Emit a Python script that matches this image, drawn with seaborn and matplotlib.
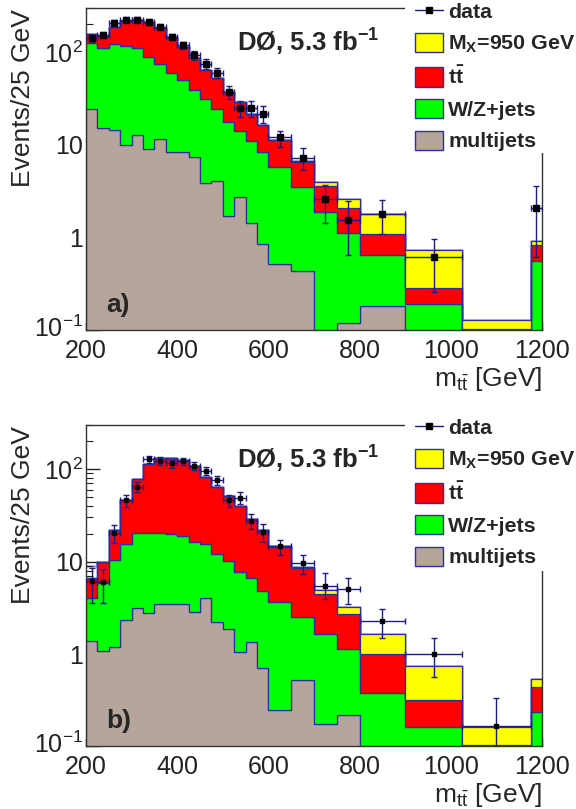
import numpy as np
import pandas as pd
import matplotlib
matplotlib.use("Agg")
import matplotlib.pyplot as plt
import seaborn as sns
from matplotlib.patches import Patch, Rectangle
from matplotlib.lines import Line2D
from matplotlib.transforms import ScaledTranslation
from matplotlib.ticker import FixedLocator, FixedFormatter, MultipleLocator, LogLocator, NullFormatter

# ---------------- data ----------------
edges = [200, 225, 250, 275, 300, 325, 350, 375, 400, 425, 450, 475, 500, 525,
         550, 575, 600, 650, 700, 750, 800, 900, 1025, 1175, 1200]

# panel a)
mj_a = [24.5, 15.2, 14.5, 10.0, 12.9, 9.0, 11.6, 8.3, 8.3, 7.3, 3.9, 4.1, 1.7, 2.7,
        1.42, 0.84, 0.51, 0.43, 0, 0.12, 0.18, 0, 0, 0]
wz_a = [101.5, 96.8, 107.5, 106, 97.1, 80, 63.4, 51.7, 41.7, 31.4, 27.6, 20.4, 15.9, 11.3,
        9.68, 7.56, 5.19, 3.07, 1.88, 1.0, 0.46, 0.192, 0, 0.553]
tt_a = [31, 37, 67, 101, 115, 125, 109, 87, 65, 48.3, 33.5, 28.2, 19.6, 15,
        10.5, 8.0, 5.5, 3.0, 1.67, 0.94, 0.44, 0.092, 0.103, 0.267]
sig_a = [0, 0, 0, 0, 0, 0, 0, 0, 0, 0, 0, 0, 0, 0,
         0, 0, 0.1, 0.2, 0.38, 0.52, 0.73, 0.451, 0.025, 0.09]
data_a = [141, 153, 208, 225, 225, 214, 187, 147, 119, 93, 75, 60, 37.2, 25,
          25, 21.6, 12.1, 7.2, 2.58, 1.56, 1.81, 0.62, np.nan, 2.08]
err_a_lo = [12, 12, 14, 15, 15, 15, 14, 12, 11, 10, 8.5, 7.5, 6, 5,
            5, 4.6, 2.7, 1.9, 1.16, 0.92, 0.73, 0.36, 0, 1.47]
err_a_hi = [12, 12, 14, 15, 15, 15, 14, 12, 11, 10, 8.5, 7.5, 6, 5,
            5, 4.6, 2.1, 2.0, 1.08, 0.92, 0.71, 0.35, 0, 1.47]

# panel b)
mj_b = [1.38, 1.09, 1.2, 2.35, 3.15, 2.78, 3.5, 3.45, 3.5, 2.85, 4.05, 2.21, 1.87, 1.04,
        1.35, 0.71, 0.245, 0.52, 0.173, 0.22, 0, 0, 0, 0]
wz_b = [2.7, 4.71, 9.2, 13.25, 17.25, 17.4, 16.9, 16.55, 15.2, 13.55, 11.45, 9.79, 8.33, 6.74,
        5.25, 4.09, 3.4, 2.02, 1.457, 0.92, 0.38, 0.161, 0, 0.235]
tt_b = [2.62, 4.2, 11.7, 30.3, 58.6, 93.3, 110.3, 110.7, 107.3, 90.6, 67.5, 51.6, 41, 32,
        22.4, 17.3, 10.85, 5.91, 2.87, 1.6, 0.62, 0.159, 0.104, 0.205]
sig_b = [0, 0, 0, 0, 0, 0, 0, 0, 0, 0, 0, 0, 0, 0,
         0, 0, 0.1, 0.25, 0.4, 0.5, 0.66, 0.42, 0.057, 0.09]
data_b = [6.1, 5.95, 20.4, 45.9, 64, 127, 123, 115, 122, 108, 96, 75.8, 45.9, 49,
          27.5, 21, 14.6, 9.6, 5.5, 5.05, 2.3, 1.0, 0.168, np.nan]
err_b_lo = [2.5, 2.4, 4.5, 6.8, 8, 11, 11, 11, 11, 10, 10, 9, 7, 7,
            5.2, 4.6, 2.7, 2.2, 1.6, 1.55, 0.8, 0.44, 0.165, 0]
err_b_hi = [2.5, 2.4, 4.5, 6.8, 8, 11, 11, 11, 11, 10, 10, 9, 7, 7,
            5.2, 4.6, 2.7, 2.2, 2.0, 1.65, 0.8, 0.48, 0.17, 0]
outline_b_bin1 = 9.0

labels = ["data", r"M$_{\mathbf{X}}$=950 GeV", r"$\mathbf{t\bar{t}}$", "W/Z+jets", "multijets"]
panel_tags = ["a)", "b)"]
lumi_text = r"DØ, 5.3 fb$^{\mathbf{-1}}$"
xlabel = r"m$_{\mathrm{t\bar{t}}}$ [GeV]"
ylabel = "Events/25 GeV"
xticks = [200, 400, 600, 800, 1000, 1200]
yticks = [0.1, 1, 10, 100]
yticklabels = [r"$10^{-1}$", "1", "10", r"$10^{2}$"]

# ---------------- style ----------------
sns.set_theme(style="ticks")
plt.rcParams["font.family"] = ["Liberation Sans", "DejaVu Sans"]
plt.rcParams["mathtext.fontset"] = "custom"
plt.rcParams["mathtext.rm"] = "Liberation Sans"
plt.rcParams["mathtext.it"] = "Liberation Sans:italic"
plt.rcParams["mathtext.bf"] = "Liberation Sans:bold"

colors = {"sig": "#ffff00", "tt": "#ff0000", "wz": "#00ff00", "mj": "#b5a59c"}
edge_col = "#2e2ea0"
err_col = "#1c1c88"
cap_col = "#8484cc"
outline_col = "#a4a4d8"

edges_arr = np.array(edges, dtype=float)
centers = 0.5 * (edges_arr[:-1] + edges_arr[1:])
halfw = 0.5 * np.diff(edges_arr)
nb = len(centers)

fig = plt.figure(figsize=(5.76, 8.09), dpi=100)
ax_a = fig.add_axes([0.1493, 0.5921, 0.7917, 0.3980])
ax_b = fig.add_axes([0.1493, 0.0773, 0.7917, 0.3974])


def draw_panel(ax, mj, wz, tt, sig, data, elo, ehi, tag, ms, first_outline=None):
    procs = ["sig", "tt", "wz", "mj"]
    df = pd.DataFrame({
        "m": np.tile(centers, 4),
        "w": np.concatenate([sig, tt, wz, mj]).astype(float),
        "proc": np.repeat(procs, nb),
    })
    total = np.array(sig) + np.array(tt) + np.array(wz) + np.array(mj)
    if first_outline is not None:
        total[0] = first_outline
    sns.histplot(x=centers, weights=total, bins=edges, element="step", fill=False,
                 color=outline_col, linewidth=1.8, ax=ax, zorder=0.5)
    sns.histplot(data=df, x="m", weights="w", hue="proc", hue_order=procs,
                 bins=edges, multiple="stack", element="step", fill=True,
                 palette=colors, alpha=1, edgecolor=edge_col, linewidth=0.9,
                 legend=False, ax=ax)
    d = np.array(data, dtype=float)
    m = ~np.isnan(d)
    eb = ax.errorbar(centers[m], d[m], xerr=halfw[m],
                     yerr=[np.array(elo)[m], np.array(ehi)[m]],
                     fmt="s", color="black", ms=ms, mec="black", mfc="black",
                     ecolor=err_col, elinewidth=1.0, capsize=2.5, capthick=1.0, zorder=5)
    for cap in eb[1]:
        cap.set_color(cap_col)

    ax.set_yscale("log")
    ax.set_xlim(200, 1200)
    ax.set_ylim(0.1, 300)
    ax.xaxis.set_major_locator(FixedLocator(xticks))
    ax.xaxis.set_minor_locator(MultipleLocator(50))
    ax.yaxis.set_major_locator(FixedLocator(yticks))
    ax.yaxis.set_major_formatter(FixedFormatter(yticklabels))
    ax.yaxis.set_minor_locator(LogLocator(base=10, subs=np.arange(2, 10), numticks=30))
    ax.yaxis.set_minor_formatter(NullFormatter())
    ax.tick_params(axis="both", which="both", direction="in", top=False, right=False,
                   colors="#222222", labelsize=18)
    ax.tick_params(axis="y", which="major", length=10, width=1, pad=2)
    ax.tick_params(axis="y", which="minor", length=5, width=0.8)
    ax.tick_params(axis="x", which="major", length=6, width=1, pad=6.5)
    ax.tick_params(axis="x", which="minor", length=3.5, width=0.8)
    for s in ax.spines.values():
        s.set_color("#333333")
        s.set_linewidth(1.0)
    ax.set_xlabel(xlabel, fontsize=19, loc="right")
    ax.xaxis.set_label_coords(1.0, -0.108)
    ax.xaxis.label.set_va("top")
    ax.set_ylabel(ylabel, fontsize=19, loc="top")
    ax.yaxis.set_label_coords(-0.112, 0.995)
    ax.text(0.331, 0.894, lumi_text, transform=ax.transAxes, fontsize=18.5,
            fontweight="bold", va="center", ha="left")
    ax.text(0.044, 0.078, tag, transform=ax.transAxes, fontsize=19,
            fontweight="bold", va="center", ha="left")
    # lift the lowest y label a touch so it does not sit on the "200"
    t0 = ax.yaxis.get_major_ticks()[0]
    t0.label1.set_transform(t0.label1.get_transform()
                            + ScaledTranslation(0, 3 / 72, fig.dpi_scale_trans))


draw_panel(ax_a, mj_a, wz_a, tt_a, sig_a, data_a, err_a_lo, err_a_hi, panel_tags[0], 5.0)
draw_panel(ax_b, mj_b, wz_b, tt_b, sig_b, data_b, err_b_lo, err_b_hi, panel_tags[1], 3.3,
           first_outline=outline_b_bin1)

# white boxes behind the legends (they cover the frame corner, as in the original)
fig.add_artist(Rectangle((0.703, 0.811), 0.3, 0.2, transform=fig.transFigure,
                         facecolor="white", edgecolor="none", zorder=3))
fig.add_artist(Rectangle((0.703, 0.2942), 0.3, 0.1891, transform=fig.transFigure,
                         facecolor="white", edgecolor="none", zorder=3))

handles = [
    Line2D([], [], color=err_col, marker="s", mfc="black", mec="black", ms=4, lw=1.0),
    Patch(facecolor=colors["sig"], edgecolor=edge_col, linewidth=1.0),
    Patch(facecolor=colors["tt"], edgecolor=edge_col, linewidth=1.0),
    Patch(facecolor=colors["wz"], edgecolor=edge_col, linewidth=1.0),
    Patch(facecolor=colors["mj"], edgecolor=edge_col, linewidth=1.0),
]
for ytop in (0.9985, 0.4843):
    leg = fig.legend(handles, labels, loc="upper left", bbox_to_anchor=(0.7205, ytop),
                     bbox_transform=fig.transFigure, frameon=False,
                     prop={"size": 15.4, "weight": "bold"},
                     handlelength=1.3, handleheight=1.0, labelspacing=0.5,
                     handletextpad=0.25, borderpad=0, borderaxespad=0)
    leg.set_zorder(6)

fig.savefig("out.png", dpi=100)
